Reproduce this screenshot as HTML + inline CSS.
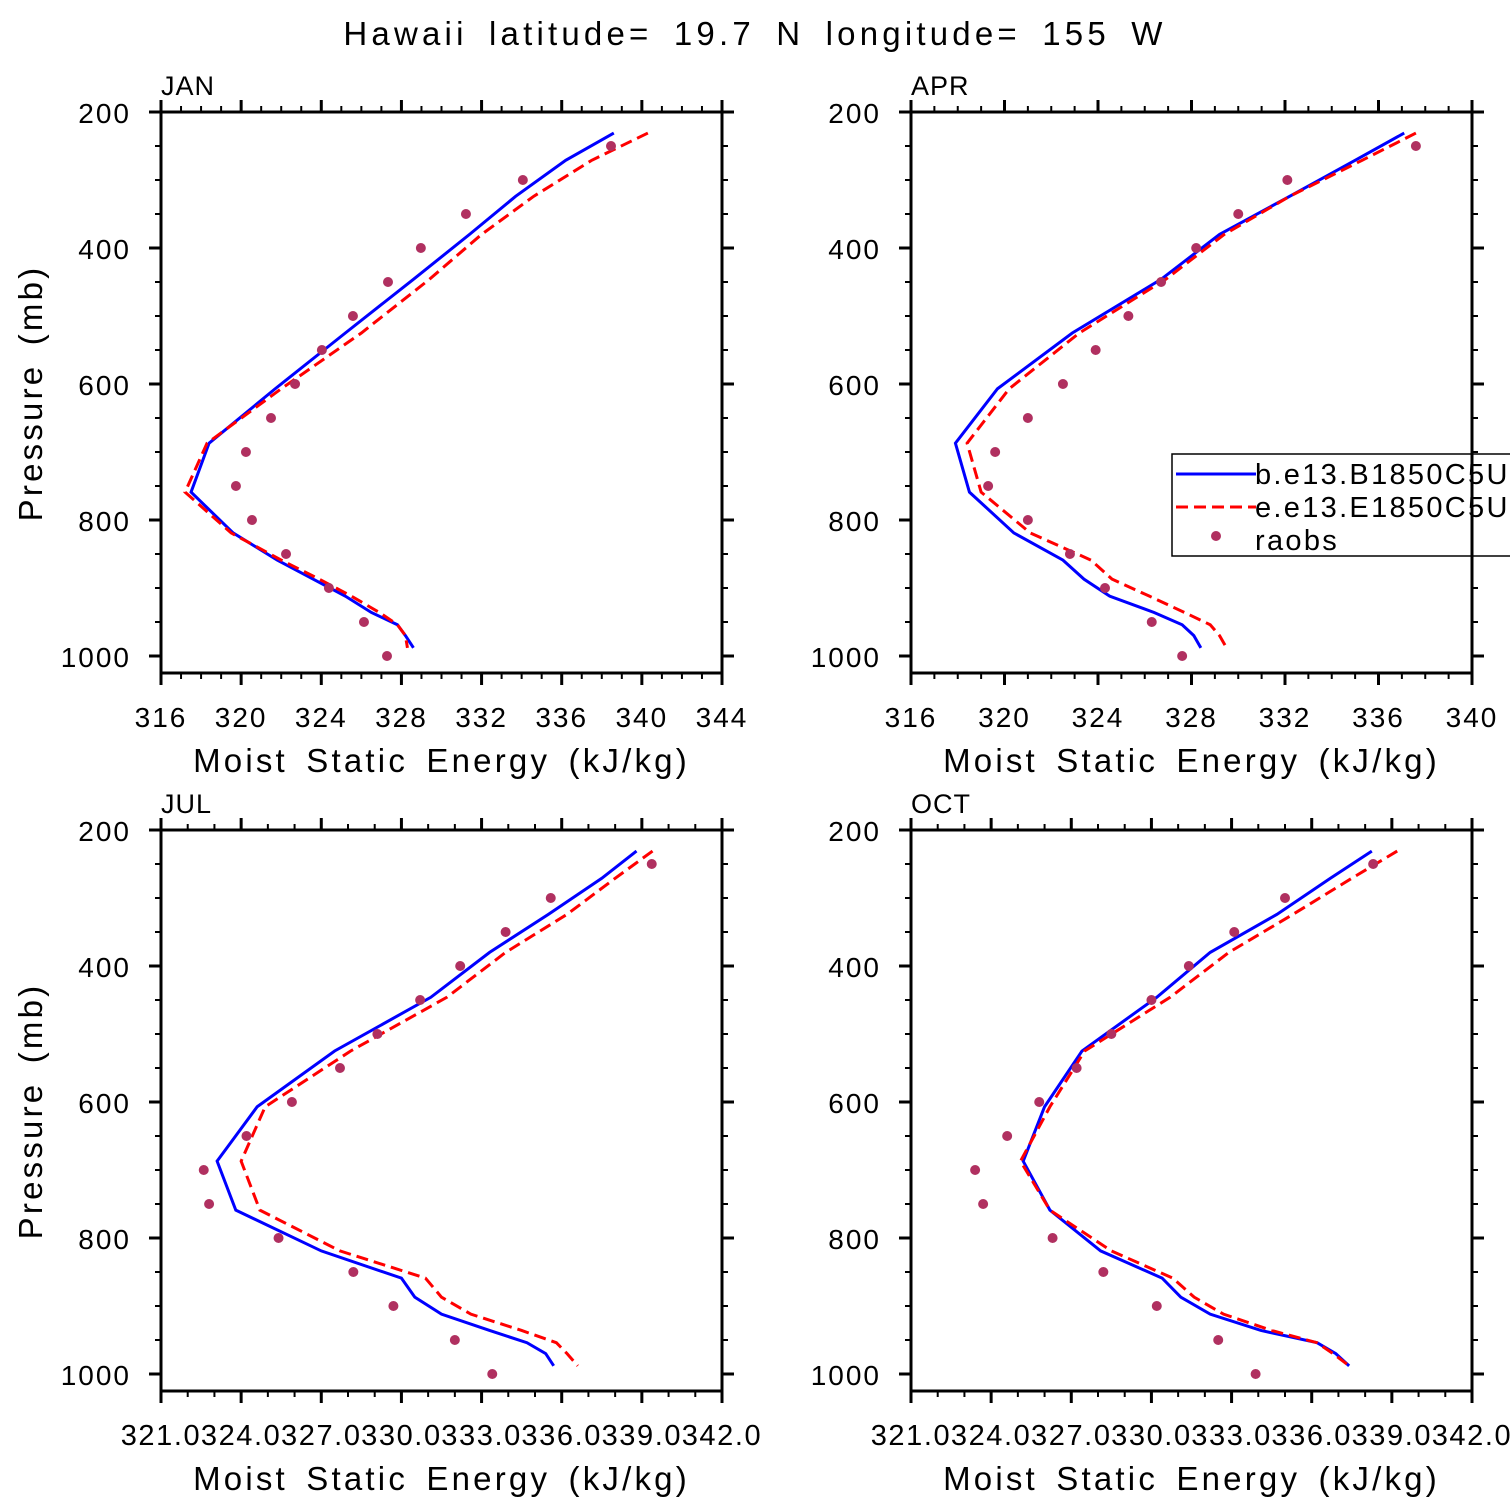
<!DOCTYPE html>
<html><head><meta charset="utf-8"><style>
html,body{margin:0;padding:0;background:#fff}
svg{display:block}
text{font-family:"Liberation Sans","DejaVu Sans",sans-serif;fill:#000}
</style></head><body>
<svg id="chart" width="1510" height="1510" xmlns="http://www.w3.org/2000/svg">
<text x="755" y="45" font-size="33" text-anchor="middle" letter-spacing="4.2" word-spacing="8">Hawaii  latitude= 19.7 N longitude= 155 W</text>
</svg>
<script>
const modelLevels=[231,271,324,380,446,525,607,687,759,819,859,887,912,936,954,970,988];
const obsLevels=[250,300,350,400,450,500,550,600,650,700,750,800,850,900,950,1000];
const janBlue=[338.6,336.2,333.7,331.4,328.6,325.2,321.7,318.4,317.5,319.6,321.8,323.6,325.2,326.5,327.8,328.2,328.6];
const janRed=[340.3,337.5,334.6,332.0,329.4,326.0,322.0,318.3,317.2,319.5,322.0,323.9,325.5,326.9,327.8,328.2,328.3];
const janObs=[338.46,334.06,331.22,328.97,327.33,325.58,324.03,322.69,321.49,320.24,319.74,320.54,322.24,324.38,326.13,327.28];
const aprBlue=[337.1,335.0,332.2,329.2,326.7,322.9,319.7,317.9,318.5,320.4,322.5,323.4,324.5,326.4,327.6,328.1,328.4];
const aprRed=[337.6,335.3,332.2,329.4,326.9,323.2,320.2,318.4,319.0,321.1,323.7,324.6,326.2,327.7,328.8,329.2,329.5];
const aprObs=[337.6,332.1,330.0,328.2,326.7,325.3,323.9,322.5,321.0,319.6,319.3,321.0,322.8,324.3,326.3,327.6];
const julBlue=[338.8,337.5,335.5,333.3,331.1,327.5,324.6,323.1,323.8,327.0,330.0,330.5,331.5,333.3,334.7,335.4,335.7];
const julRed=[339.4,338.0,336.2,333.9,331.7,328.1,324.9,324.0,324.7,327.7,330.9,331.5,332.6,334.5,335.8,336.2,336.6];
const julObs=[339.37,335.59,333.9,332.2,330.7,329.1,327.7,325.9,324.2,322.6,322.8,325.4,328.2,329.7,332.0,333.4];
const octBlue=[338.25,336.7,334.7,332.2,330.2,327.4,326.0,325.2,326.2,328.1,330.4,331.1,332.2,334.1,336.2,336.9,337.4];
const octRed=[339.2,337.5,335.3,332.9,330.7,327.5,326.2,325.1,326.2,328.5,330.8,331.6,332.7,334.5,336.2,336.8,337.4];
const octObs=[338.3,335.0,333.1,331.4,330.0,328.5,327.2,325.8,324.6,323.4,323.7,326.3,328.2,330.2,332.5,333.9];
const janTicks=["316","320","324","328","332","336","340","344"];
const aprTicks=["316","320","324","328","332","336","340"];
const julTicks=["321.0","324.0","327.0","330.0","333.0","336.0","339.0","342.0"];
const octTicks=["321.0","324.0","327.0","330.0","333.0","336.0","339.0","342.0"];
const pTicks=["200","400","600","800","1000"];

const NS="http://www.w3.org/2000/svg";
const svg=document.getElementById('chart');
function mk(tag,attrs,parent){const e=document.createElementNS(NS,tag);for(const k in attrs)e.setAttribute(k,attrs[k]);(parent||svg).appendChild(e);return e;}

function panel(name,left,top,xmin,xmax,major,minorN,ticks,blue,red,obs,ylab,legend){
  const W=561,H=561;
  const g=mk('g',{});
  
  
  const xs=v=>left+(v-xmin)/(xmax-xmin)*W;
  const ys=p=>top+(p-200)*0.68;
  const bottom=top+H;
  const clip=mk('clipPath',{id:'c'+name},g);
  mk('rect',{x:left,y:top,width:W,height:H},clip);
  const bl=mk('polyline',{points:blue.map((v,i)=>xs(v)+','+ys(modelLevels[i])).join(' '),fill:'none',stroke:'#0000ff','stroke-width':3,'clip-path':'url(#c'+name+')'},g);
  
  
  const rl=mk('polyline',{points:red.map((v,i)=>xs(v)+','+ys(modelLevels[i])).join(' '),fill:'none',stroke:'#ff0000','stroke-width':3,'stroke-dasharray':'12,6','clip-path':'url(#c'+name+')'},g);
  
  
  obs.forEach((v,i)=>{
    const c=mk('circle',{cx:xs(v),cy:ys(obsLevels[i]),r:5,fill:'#b03060'},g);
    
    
  });
  mk('rect',{x:left,y:top,width:W,height:H,fill:'none',stroke:'#000','stroke-width':3},g);
  const step=(xmax-xmin)/(ticks.length-1);
  for(let i=0;i<ticks.length;i++){
    const v=xmin+i*step,x=xs(v);
    mk('line',{x1:x,y1:bottom,x2:x,y2:bottom+12,stroke:'#000','stroke-width':3},g);
    mk('line',{x1:x,y1:top,x2:x,y2:top-12,stroke:'#000','stroke-width':3},g);
    const long=ticks[i].length>3;
    const t=mk('text',{x:x,y:bottom+54,'font-size':long?29:28,'text-anchor':'middle','letter-spacing':long?'1.6':'2'},g);
    t.textContent=ticks[i];
    
    
    if(i<ticks.length-1){for(let k=1;k<minorN;k++){const xm=xs(v+step*k/minorN);
      mk('line',{x1:xm,y1:bottom,x2:xm,y2:bottom+6,stroke:'#000','stroke-width':2},g);
      mk('line',{x1:xm,y1:top,x2:xm,y2:top-6,stroke:'#000','stroke-width':2},g);}}
  }
  for(let p=200;p<=1000;p+=50){
    const y=ys(p),maj=p%200===0,l=maj?12:6,sw=maj?3:2;
    mk('line',{x1:left,y1:y,x2:left-l,y2:y,stroke:'#000','stroke-width':sw},g);
    mk('line',{x1:left+W,y1:y,x2:left+W+l,y2:y,stroke:'#000','stroke-width':sw},g);
  }
  pTicks.forEach(s=>{
    const t=mk('text',{x:left-30,y:ys(+s)+11,'font-size':28,'text-anchor':'end','letter-spacing':'2'},g);
    t.textContent=s;
    
    
  });
  const mt=mk('text',{x:left,y:top-17,'font-size':27,'letter-spacing':'1'},g);
  mt.textContent=name.toUpperCase();
  
  
  const xt=mk('text',{x:left+W/2,y:bottom+99,'font-size':33,'text-anchor':'middle','letter-spacing':'3.2','word-spacing':'6'},g);
  xt.textContent='Moist Static Energy (kJ/kg)';
  
  
  if(ylab){
    const yt=mk('text',{x:0,y:0,'font-size':33,'text-anchor':'middle','letter-spacing':'3.2','word-spacing':'6',transform:'translate(42,'+(top+281)+') rotate(-90)'},g);
    yt.textContent='Pressure (mb)';
    
    
  }
  if(legend){
    const lg=mk('g',{},g);
    
    
    mk('rect',{x:1172,y:454,width:360,height:102,fill:'#fff',stroke:'#000','stroke-width':1.5},lg);
    mk('line',{x1:1176,y1:474,x2:1256,y2:474,stroke:'#0000ff','stroke-width':3},lg);
    mk('line',{x1:1176,y1:507,x2:1256,y2:507,stroke:'#ff0000','stroke-width':3,'stroke-dasharray':'12,6'},lg);
    mk('circle',{cx:1216,cy:536,r:5,fill:'#b03060'},lg);
    const labels=['b.e13.B1850C5U','e.e13.E1850C5U','raobs'];
    labels.forEach((s,i)=>{const t=mk('text',{x:1255,y:484+i*33,'font-size':29,'letter-spacing':'2.3'},lg);t.textContent=s;
      
      });
    mk('line',{x1:left+W,y1:top,x2:left+W,y2:bottom,stroke:'#000','stroke-width':3},g);
  }
}
panel('jan',161,112,316,344,4,4,janTicks,janBlue,janRed,janObs,true,false);
panel('apr',911,112,316,340,4,4,aprTicks,aprBlue,aprRed,aprObs,false,true);
panel('jul',161,830,321,342,3,3,julTicks,julBlue,julRed,julObs,true,false);
panel('oct',911,830,321,342,3,3,octTicks,octBlue,octRed,octObs,false,false);
</script>
</body></html>
